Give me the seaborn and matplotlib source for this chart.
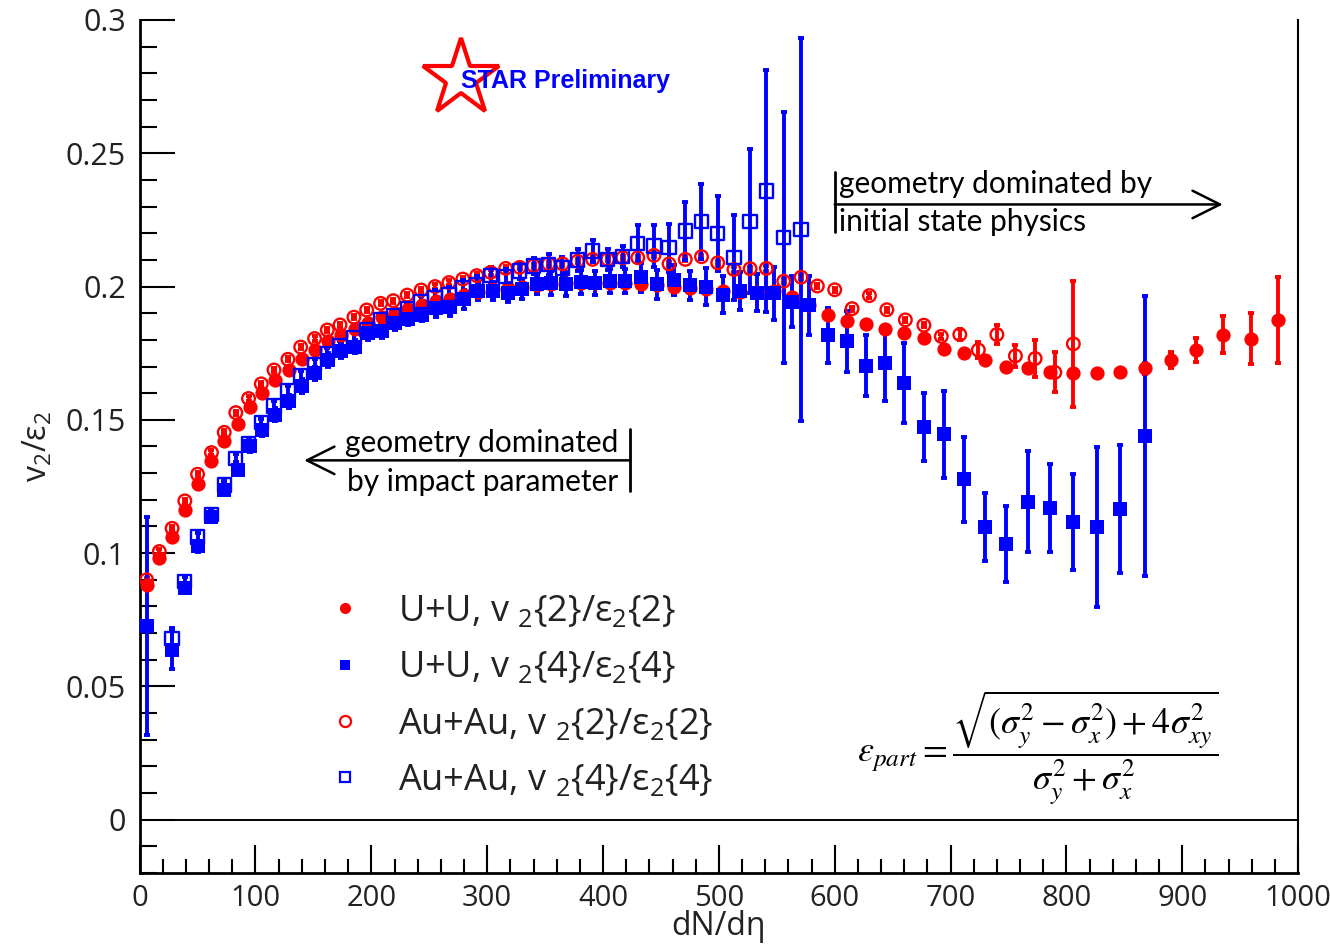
import numpy as np
import pandas as pd
import seaborn as sns
import matplotlib
matplotlib.use("Agg")
import matplotlib.pyplot as plt
from matplotlib.ticker import MultipleLocator, FuncFormatter

nan = np.nan

# ---------------- data ----------------
uu_x = [6, 17, 28, 39, 50, 62, 73, 85, 95, 106, 117, 129, 140, 151, 163, 174, 186, 197, 209, 220,
        232, 244, 256, 268, 280, 292, 305, 318, 330, 343, 355, 368, 381, 393, 406, 419, 433, 447, 461, 475,
        489, 504, 518, 533, 548, 563, 578, 594, 611, 627, 643, 660, 677, 694, 712, 730, 748, 767, 786, 806,
        826, 846, 868, 890, 912, 935, 959, 983]

uu_v22 = [0.088, 0.098, 0.106, 0.116, 0.126, 0.1346, 0.142, 0.1485, 0.155, 0.160,
          0.165, 0.1687, 0.173, 0.1762, 0.1795, 0.182, 0.184, 0.1865, 0.1885, 0.190,
          0.1915, 0.193, 0.1945, 0.1955, 0.197, 0.198, 0.199, 0.1995, 0.200, 0.2005,
          0.201, 0.2012, 0.2015, 0.2015, 0.2015, 0.2012, 0.201, 0.2005, 0.200, 0.1995,
          0.199, 0.1985, 0.198, 0.198, 0.1985, 0.196, 0.193, 0.1893, 0.1869, 0.1861,
          0.1842, 0.1824, 0.1807, 0.1764, 0.1751, 0.1723, 0.170, 0.1693, 0.168, 0.1674,
          0.1675, 0.1678, 0.1693, 0.1723, 0.1761, 0.182, 0.1804, 0.1874]
uu_v22_err = [0.0008] * 62 + [0.002, 0.003, 0.0045, 0.007, 0.0095, 0.016]

uu_v24 = [0.0727, nan, 0.0637, 0.0869, 0.1025, 0.1137, 0.1237, 0.1312, 0.140, 0.146,
          0.152, 0.157, 0.1627, 0.1674, 0.1724, 0.1758, 0.1774, 0.1824, 0.1833, 0.1862,
          0.1879, 0.1895, 0.192, 0.1924, 0.1952, 0.1983, 0.1983, 0.1977, 0.1989, 0.2008,
          0.2014, 0.2008, 0.2017, 0.2015, 0.202, 0.202, 0.2035, 0.2008, 0.2025, 0.2005,
          0.200, 0.197, 0.1983, 0.1977, 0.1975, 0.1943, 0.193, 0.1817, 0.1794, 0.1703,
          0.1712, 0.1639, 0.1473, 0.1445, 0.1277, 0.1098, 0.1034, 0.1193, 0.117, 0.1118,
          0.1098, 0.1164, 0.1438, nan, nan, nan, nan, nan]
uu_v24_err = [0.041, nan, 0.007, 0.002, 0.002, 0.002, 0.002, 0.002, 0.002, 0.002,
              0.0025, 0.0025, 0.0025, 0.0025, 0.0025, 0.0025, 0.0025, 0.0025, 0.0025, 0.0025,
              0.0025, 0.0025, 0.0035, 0.0035, 0.0035, 0.0035, 0.0035, 0.0035, 0.0035, 0.0035,
              0.0045, 0.0045, 0.0045, 0.0045, 0.0045, 0.0045, 0.0055, 0.0055, 0.0055, 0.0055,
              0.007, 0.007, 0.007, 0.007, 0.010, 0.0096, 0.011, 0.0103, 0.0116, 0.0115,
              0.014, 0.015, 0.0126, 0.0164, 0.016, 0.0126, 0.0142, 0.019, 0.0165, 0.018,
              0.030, 0.024, 0.0525, nan, nan, nan, nan, nan]

au_x = [6, 17, 28, 39, 50, 62, 73, 83, 94, 105, 116, 128, 139, 151, 162, 173, 185, 196, 208, 219,
        231, 243, 255, 267, 279, 291, 303, 316, 328, 340, 353, 365, 378, 391, 404, 417, 430, 444, 457, 471,
        485, 499, 513, 527, 541, 556, 571, 585, 600, 615, 630, 645, 661, 677, 692, 708, 724, 740, 756, 773,
        790, 806]

au_v22 = [0.090, 0.1006, 0.1093, 0.1196, 0.1296, 0.1377, 0.1453, 0.1527, 0.158, 0.1635,
          0.1687, 0.1727, 0.1773, 0.1805, 0.1837, 0.1856, 0.1885, 0.1912, 0.1937, 0.1947,
          0.1968, 0.1987, 0.200, 0.2015, 0.2028, 0.2041, 0.2053, 0.2068, 0.2072, 0.2078,
          0.2085, 0.2085, 0.2095, 0.2102, 0.2102, 0.2108, 0.2108, 0.2117, 0.2085, 0.2102,
          0.2112, 0.2089, 0.2064, 0.2067, 0.2068, 0.202, 0.2035, 0.2002, 0.1988, 0.1917,
          0.1966, 0.1913, 0.1875, 0.1855, 0.1813, 0.182, 0.1762, 0.182, 0.174, 0.173,
          0.1678, 0.1785]
au_v22_err = [0.0008] * 55 + [0.002, 0.003, 0.0035, 0.004, 0.007, 0.0075, 0.0235]

au_v24 = [nan, nan, 0.068, 0.0894, 0.106, 0.1144, 0.1256, 0.1356, 0.141, 0.149,
          0.1552, 0.1608, 0.1664, 0.1708, 0.1749, 0.1777, 0.1808, 0.1839, 0.1874, 0.1892,
          0.1917, 0.1943, 0.1958, 0.197, 0.1996, 0.2008, 0.2042, 0.2037, 0.2058, 0.2077,
          0.2083, 0.207, 0.2099, 0.2133, 0.2102, 0.2112, 0.2162, 0.2152, 0.2146, 0.2208,
          0.2243, 0.2199, 0.2108, 0.2245, 0.2358, 0.2183, 0.2214, nan, nan, nan,
          nan, nan, nan, nan, nan, nan, nan, nan, nan, nan,
          nan, nan]
au_v24_err = [nan, nan, 0.004, 0.0015, 0.0015, 0.0015, 0.0015, 0.0015, 0.0015, 0.0015,
              0.002, 0.002, 0.002, 0.002, 0.002, 0.002, 0.002, 0.002, 0.002, 0.002,
              0.002, 0.002, 0.003, 0.003, 0.003, 0.003, 0.003, 0.003, 0.003, 0.003,
              0.004, 0.004, 0.004, 0.004, 0.004, 0.004, 0.007, 0.008, 0.009, 0.011,
              0.014, 0.014, 0.016, 0.027, 0.0455, 0.047, 0.072, nan, nan, nan,
              nan, nan, nan, nan, nan, nan, nan, nan, nan, nan,
              nan, nan]

labels = [r"U+U, v $_{\mathregular{2}}${2}/ε$_{\mathregular{2}}${2}",
          r"U+U, v $_{\mathregular{2}}${4}/ε$_{\mathregular{2}}${4}",
          r"Au+Au, v $_{\mathregular{2}}${2}/ε$_{\mathregular{2}}${2}",
          r"Au+Au, v $_{\mathregular{2}}${4}/ε$_{\mathregular{2}}${4}"]

x_ticks = list(range(0, 1001, 100))

# ---------------- style ----------------
sns.set_theme(style="ticks")
plt.rcParams["font.family"] = ["Open Sans", "DejaVu Sans"]
plt.rcParams["mathtext.fontset"] = "custom"
plt.rcParams["mathtext.rm"] = "Open Sans"
plt.rcParams["mathtext.it"] = "Open Sans:italic"

RED = "#ff0000"
BLUE = "#0000ff"
TXT = "#222222"

fig = plt.figure(figsize=(13.3, 9.51), dpi=100)
ax = fig.add_axes([0.105, 0.082, 0.871, 0.897])

series = [
    (uu_x, uu_v22, uu_v22_err, RED, "o", True, 105, labels[0]),
    (au_x, au_v22, au_v22_err, RED, "o", False, 82, labels[2]),
    (uu_x, uu_v24, uu_v24_err, BLUE, "s", True, 98, labels[1]),
    (au_x, au_v24, au_v24_err, BLUE, "s", False, 92, labels[3]),
]
handles = {}
for xs, ys, es, col, mk, filled, size, lab in series:
    df = pd.DataFrame({"x": xs, "y": ys, "e": es}).dropna()
    ax.errorbar(df["x"], df["y"], yerr=df["e"], fmt="none", ecolor=col,
                elinewidth=2.8, capsize=2.2, capthick=2.8, zorder=2)
    sns.scatterplot(data=df, x="x", y="y", marker=mk, s=size, color=col,
                    edgecolor=col, linewidth=(0 if filled else 1.7), ax=ax,
                    zorder=3, legend=False)
    coll = ax.collections[-1]
    if not filled:
        coll.set_facecolor("none")
        coll.set_edgecolor(col)
    handles[lab] = plt.Line2D([], [], ls="none", marker=mk, ms=(8 if mk == "o" else 7.5),
                              mfc=(col if filled else "none"), mec=col,
                              mew=(0 if filled else 1.6))

ax.axhline(0, color="black", lw=1.4, zorder=1)

ax.set_xlim(0, 1000)
ax.set_ylim(-0.02, 0.3)
ax.set_xticks(x_ticks)
ax.xaxis.set_minor_locator(MultipleLocator(20))
ax.yaxis.set_major_locator(MultipleLocator(0.05))
ax.yaxis.set_minor_locator(MultipleLocator(0.01))
ax.yaxis.set_major_formatter(FuncFormatter(lambda v, p: "%g" % round(v, 3)))

ax.tick_params(axis="both", which="both", direction="in", color="black", width=1.5,
               labelsize=22, labelcolor=TXT)
ax.tick_params(axis="x", which="major", length=20, pad=8, labelsize=21)
ax.tick_params(axis="x", which="minor", length=10)
ax.tick_params(axis="y", which="major", length=25, pad=10)
ax.tick_params(axis="y", which="minor", length=12)
ax.tick_params(top=False, right=False, which="both")
for s in ["left", "bottom"]:
    ax.spines[s].set_linewidth(2)
    ax.spines[s].set_color("black")
ax.spines["right"].set_linewidth(1.5)
ax.spines["right"].set_color("black")
ax.spines["top"].set_visible(False)

ax.set_xlabel("dN/dη", fontsize=23, color=TXT, labelpad=-2)
ax.set_ylabel(r"v$_{\mathregular{2}}$/ε$_{\mathregular{2}}$", fontsize=23, color=TXT, labelpad=8)

leg = ax.legend([handles[l] for l in labels], labels, loc="upper left",
                bbox_to_anchor=(0.162, 0.327), frameon=False, fontsize=26,
                handlelength=1.0, handletextpad=0.95, labelspacing=0.56,
                borderpad=0, borderaxespad=0)
for t in leg.get_texts():
    t.set_color(TXT)

# formula
ax.text(0.619, 0.147,
        r"$\varepsilon_{part} = \dfrac{\sqrt{(\sigma_y^2-\sigma_x^2)+4\sigma_{xy}^2}}{\sigma_y^2+\sigma_x^2}$",
        transform=ax.transAxes, fontsize=26, math_fontfamily="stix",
        ha="left", va="center", color="black")

# annotations
FAM = ["Lato", "DejaVu Sans"]
ax.annotate("", xy=(142, 0.1348), xytext=(423.5, 0.1348),
            arrowprops=dict(arrowstyle="->,head_length=0.9,head_width=0.45",
                            lw=1.8, color="black", mutation_scale=22,
                            shrinkA=0, shrinkB=0))
ax.plot([423.5, 423.5], [0.1232, 0.1464], color="black", lw=2)
ax.text(413.5, 0.1413, "geometry dominated", ha="right", va="center",
        fontsize=21.5, family=FAM, color="black")
ax.text(413.5, 0.1267, "by impact parameter", ha="right", va="center",
        fontsize=21.5, family=FAM, color="black")

ax.annotate("", xy=(935, 0.2308), xytext=(600, 0.2308),
            arrowprops=dict(arrowstyle="->,head_length=0.9,head_width=0.45",
                            lw=1.8, color="black", mutation_scale=22,
                            shrinkA=0, shrinkB=0))
ax.plot([600, 600], [0.2203, 0.2428], color="black", lw=2)
ax.text(604, 0.2385, "geometry dominated by", ha="left", va="center",
        fontsize=21.5, family=FAM, color="black")
ax.text(604, 0.2242, "initial state physics", ha="left", va="center",
        fontsize=21.5, family=FAM, color="black")

# STAR Preliminary logo
ax.plot([0.277], [0.932], transform=ax.transAxes, marker="*", ms=58,
        mfc="white", mec=RED, mew=3, ls="none", clip_on=False, zorder=5)
ax.text(0.277, 0.929, "STAR Preliminary", transform=ax.transAxes,
        fontsize=18, fontweight="bold", color=BLUE, ha="left", va="center",
        family=["Liberation Sans", "DejaVu Sans"], zorder=6)

fig.savefig("out.png", dpi=100)
